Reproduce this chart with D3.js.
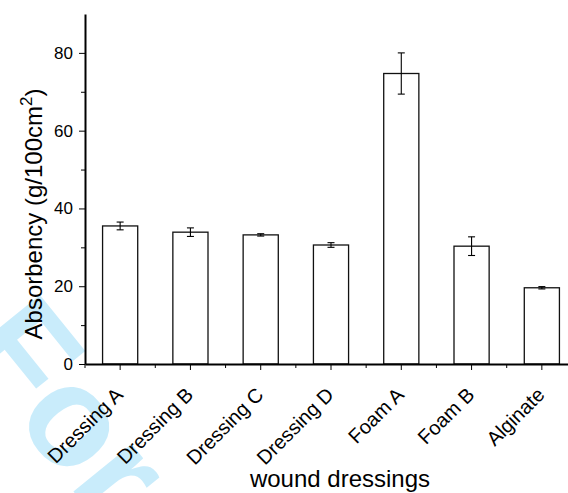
<!DOCTYPE html>
<html>
<head>
<meta charset="utf-8">
<script src="https://cdn.jsdelivr.net/npm/d3@7"></script>
<style>
  body { margin: 0; background: #fff; }
  svg { display: block; }
  text { font-family: "Liberation Sans", Arial, sans-serif; fill: #000; }
</style>
</head>
<body>
<div id="chart"></div>
<script>
// data
var categories = ["Dressing A", "Dressing B", "Dressing C", "Dressing D", "Foam A", "Foam B", "Alginate"];
var absorbency = [35.5, 33.9, 33.2, 30.6, 74.7, 30.3, 19.6];
var errors = [1.0, 1.1, 0.3, 0.6, 5.3, 2.4, 0.3];
var majorTicks = [0, 20, 40, 60, 80];
var minorTicks = [10, 30, 50, 70];

var width = 568,
    height = 493;

var plot = {
    left: 85,
    right: 577,
    top: 14,
    bottom: 364
};

var svg = d3.select("#chart")
    .append("svg")
    .attr("width", width)
    .attr("height", height);

// watermark behind the chart (only its first letters fall inside the picture)
svg.append("text")
    .attr("transform", "translate(-42,349) rotate(51)")
    .style("font-size", "142px")
    .style("font-weight", "bold")
    .style("fill", "#c9ecfb")
    .text("For");

// scales
var x = d3.scaleBand()
    .domain(categories)
    .range([plot.left, plot.right])
    .paddingInner(0.5)
    .paddingOuter(0.25);

var y = d3.scaleLinear()
    .domain([0, 90])
    .range([plot.bottom, plot.top]);

// bars
svg.selectAll("rect.bar")
    .data(absorbency)
    .enter()
    .append("rect")
    .attr("class", "bar")
    .attr("x", function (d, i) { return x(categories[i]); })
    .attr("y", function (d) { return y(d); })
    .attr("width", x.bandwidth())
    .attr("height", function (d) { return y(0) - y(d); })
    .style("fill", "#fff")
    .style("stroke", "#111")
    .style("stroke-width", 1.3);

// error bars
var capW = 3.5;
var err = svg.selectAll("g.err")
    .data(absorbency)
    .enter()
    .append("g")
    .attr("class", "err")
    .style("stroke", "#000")
    .style("stroke-width", 1.1);

err.append("line")
    .attr("x1", function (d, i) { return x(categories[i]) + x.bandwidth() / 2; })
    .attr("x2", function (d, i) { return x(categories[i]) + x.bandwidth() / 2; })
    .attr("y1", function (d, i) { return y(d + errors[i]); })
    .attr("y2", function (d, i) { return y(d - errors[i]); });

[1, -1].forEach(function (sgn) {
    err.append("line")
        .attr("x1", function (d, i) { return x(categories[i]) + x.bandwidth() / 2 - capW; })
        .attr("x2", function (d, i) { return x(categories[i]) + x.bandwidth() / 2 + capW; })
        .attr("y1", function (d, i) { return y(d + sgn * errors[i]); })
        .attr("y2", function (d, i) { return y(d + sgn * errors[i]); });
});

// y axis: major ticks with labels, minor ticks without
var yAxis = svg.append("g")
    .attr("transform", "translate(" + plot.left + ",0)")
    .call(d3.axisLeft(y).tickValues(majorTicks).tickSize(6).tickSizeOuter(0).tickPadding(6));

svg.append("g")
    .attr("transform", "translate(" + plot.left + ",0)")
    .call(d3.axisLeft(y).tickValues(minorTicks).tickSize(4).tickFormat(""))
    .select(".domain").remove();

yAxis.selectAll("text")
    .style("font-size", "17px")
    .style("font-family", "'Liberation Sans', Arial, sans-serif");

// x axis: ticks at category centres, minor ticks between them
var xAxis = svg.append("g")
    .attr("transform", "translate(0," + plot.bottom + ")")
    .call(d3.axisBottom(x).tickSize(6).tickSizeOuter(0).tickFormat(""));

var bounds = d3.range(categories.length + 1).map(function (k) {
    return plot.left + k * x.step();
});

svg.append("g")
    .selectAll("line")
    .data(bounds)
    .enter()
    .append("line")
    .attr("x1", function (d) { return d; })
    .attr("x2", function (d) { return d; })
    .attr("y1", plot.bottom)
    .attr("y2", plot.bottom + 4)
    .style("stroke", "#000")
    .style("stroke-width", 1);

svg.selectAll(".tick line").style("stroke-width", 1);
svg.selectAll(".domain").style("stroke-width", 2);

// rotated category labels
svg.selectAll("text.cat")
    .data(categories)
    .enter()
    .append("text")
    .attr("class", "cat")
    .attr("transform", function (d) {
        return "translate(" + (x(d) + x.bandwidth() / 2 + 4) + "," + (plot.bottom + 32) + ") rotate(-45)";
    })
    .attr("text-anchor", "end")
    .style("font-size", "20px")
    .text(function (d) { return d; });

// axis titles
var yTitle = svg.append("text")
    .attr("transform", "translate(42,214) rotate(-90)")
    .attr("text-anchor", "middle")
    .style("font-size", "24px");
yTitle.append("tspan").text("Absorbency (g/100cm");
yTitle.append("tspan").attr("dy", -10).style("font-size", "17px").text("2");
yTitle.append("tspan").attr("dy", 10).text(")");

svg.append("text")
    .attr("x", 340)
    .attr("y", 487)
    .attr("text-anchor", "middle")
    .style("font-size", "24px")
    .text("wound dressings");
</script>
</body>
</html>
